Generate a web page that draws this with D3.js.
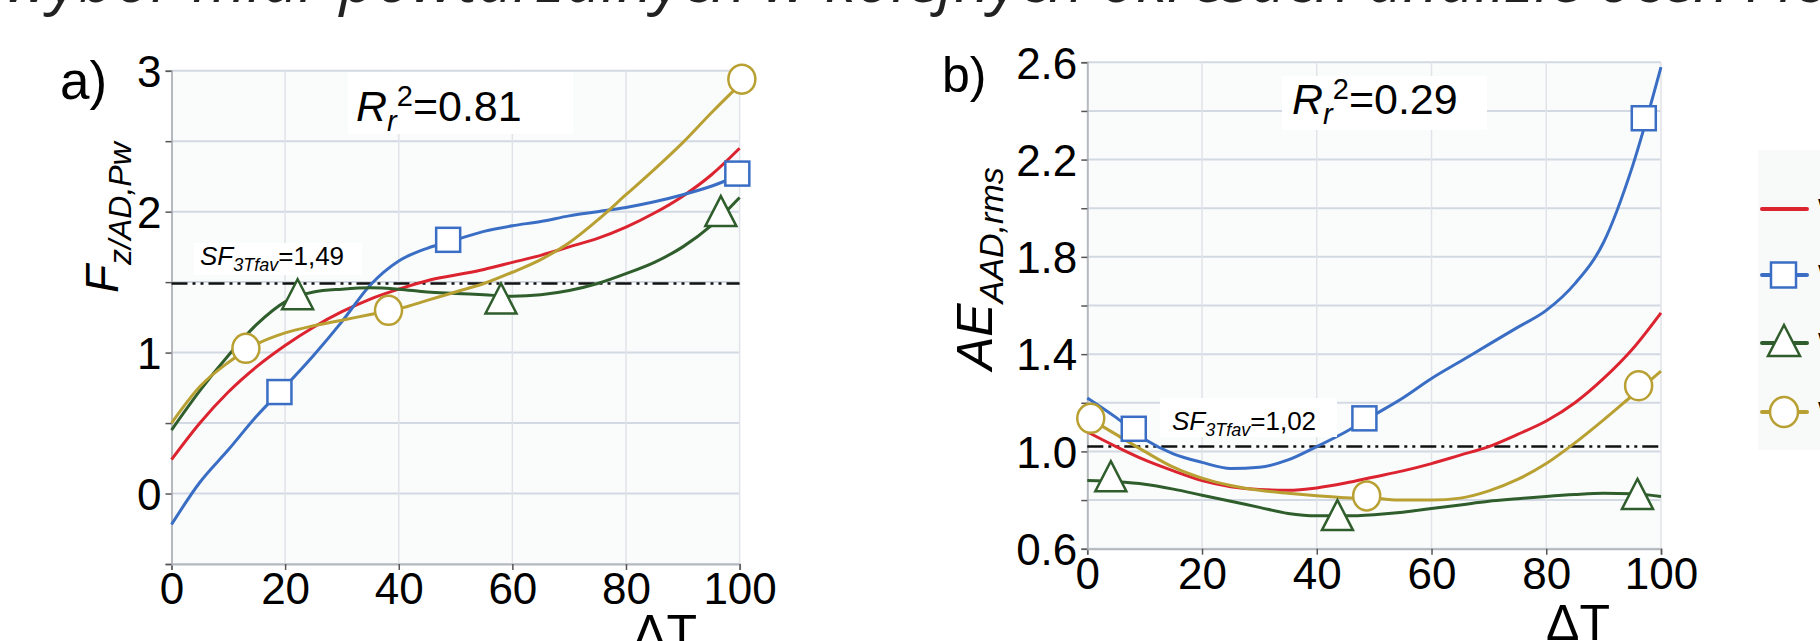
<!DOCTYPE html>
<html><head><meta charset="utf-8">
<script src="https://cdn.jsdelivr.net/npm/d3@7"></script>
<style>
html,body{margin:0;padding:0;background:#fff;}
svg{display:block;font-family:"Liberation Sans",Arial,sans-serif;}
</style></head>
<body>
<svg id="c" width="1820" height="641"></svg>
<script>
// ---------- data ----------
const titleText = "wybór miar powtarzalnych w kolejnych okresach analizie ocen i ich dalsze oceniane";
const xVals = [0,5,10,15,20,25,30,35,40,45,50,55,60,65,70,75,80,85,90,95,100];
const xTicks = [0,20,40,60,80,100];

// panel a
const aYTicks = [0,1,2,3];
const aRed    = [0.24,0.50,0.72,0.90,1.05,1.18,1.29,1.38,1.45,1.51,1.55,1.59,1.64,1.69,1.75,1.81,1.89,1.99,2.11,2.26,2.45];
const aBlue   = [-0.22,0.08,0.31,0.55,0.76,0.98,1.22,1.48,1.65,1.74,1.80,1.86,1.90,1.93,1.97,2.00,2.03,2.07,2.12,2.18,2.26];
const aGreen  = [0.45,0.73,0.98,1.20,1.36,1.43,1.45,1.46,1.45,1.43,1.42,1.41,1.40,1.41,1.44,1.49,1.56,1.64,1.75,1.90,2.10];
const aYellow = [0.50,0.76,0.93,1.06,1.14,1.19,1.23,1.27,1.31,1.37,1.43,1.49,1.57,1.66,1.78,1.94,2.12,2.30,2.49,2.70,2.90];
const aBlueMx = [19.0,48.7,99.6], aBlueMy = [0.72,1.80,2.27];
const aGreenMx = [22.2,58.0,96.7], aGreenMy = [1.40,1.37,1.99];
const aYellowMx = [13.1,38.2,100.4], aYellowMy = [1.03,1.30,2.94];
const aSF = 1.49, aR2 = "0.81", aSFLabel = "=1,49";

// panel b
const bYTicks = [0.6,1.0,1.4,1.8,2.2,2.6];
const bRed    = [1.08,1.02,0.965,0.92,0.88,0.855,0.843,0.84,0.85,0.87,0.895,0.92,0.95,0.985,1.02,1.07,1.125,1.20,1.30,1.42,1.57];
const bBlue   = [1.22,1.14,1.05,0.99,0.955,0.93,0.935,0.965,1.02,1.08,1.15,1.22,1.30,1.37,1.44,1.51,1.58,1.69,1.86,2.17,2.58];
const bGreen  = [0.88,0.875,0.865,0.845,0.82,0.795,0.77,0.745,0.735,0.735,0.74,0.75,0.765,0.78,0.795,0.805,0.815,0.823,0.828,0.826,0.815];
const bYellow = [1.14,1.07,1.00,0.935,0.89,0.86,0.84,0.828,0.818,0.81,0.807,0.80,0.80,0.808,0.838,0.885,0.95,1.035,1.13,1.23,1.33];
const bBlueMx = [8.1,48.3,97.0], bBlueMy = [1.093,1.136,2.37];
const bGreenMx = [4.1,43.6,95.9], bGreenMy = [0.89,0.73,0.817];
const bYellowMx = [0.6,48.7,96.1], bYellowMy = [1.136,0.817,1.27];
const bSF = 1.02, bR2 = "0.29", bSFLabel = "=1,02";

const legendLabels = ["W1","W2","W3","W4"];

// ---------- style ----------
const C = {red:"#dc2430", blue:"#3a6ec4", green:"#2f5e2c", yellow:"#b9a032"};
const svg = d3.select("#c");

// title (cut off at top): fit so descenders of 'y' (wybór) and 'j' (kolejnych) land where they are
const title = svg.append("text").attr("x",0).attr("y",2)
  .style("font-family","'Open Sans',sans-serif").style("font-style","italic")
  .style("font-size","56px").attr("fill","#222").text(titleText);
(function fit(){
  const n = title.node();
  const iy = 1, ij = titleText.indexOf("kolejnych")+4;
  const cy = n.getStartPositionOfChar(iy).x + n.getExtentOfChar(iy).width*0.35;
  const cj = n.getStartPositionOfChar(ij).x + n.getExtentOfChar(ij).width*0.35;
  const k = (944-60)/(cj-cy);
  title.style("font-size",(56*k)+"px");
  const cy2 = n.getStartPositionOfChar(iy).x + n.getExtentOfChar(iy).width*0.35;
  title.attr("x",60-cy2);
})();

function panel(o){
  const x = d3.scaleLinear([0,100],o.xr);
  const y = d3.scaleLinear(o.yd,o.yr);
  const g = svg.append("g");
  g.append("rect").attr("x",o.xr[0]).attr("y",o.yr[1]).attr("width",o.xr[1]-o.xr[0]).attr("height",o.yr[0]-o.yr[1]).attr("fill","#fafcfc");
  g.append("g").selectAll("line").data(o.gridY).join("line")
    .attr("x1",o.xr[0]).attr("x2",o.xr[1]).attr("y1",d=>y(d)).attr("y2",d=>y(d))
    .attr("stroke","#d3d9e3").attr("stroke-width",2);
  g.append("g").selectAll("line").data(xTicks.slice(1)).join("line")
    .attr("x1",d=>x(d)).attr("x2",d=>x(d)).attr("y1",o.yr[0]).attr("y2",o.yr[1])
    .attr("stroke","#e0e3e8").attr("stroke-width",1.5);
  const ax = g.append("g").attr("transform",`translate(0,${o.yr[0]})`)
    .call(d3.axisBottom(x).tickValues(xTicks).tickSize(6).tickPadding(3));
  ax.select(".domain").attr("stroke","#b5b8bd").attr("stroke-width",2);
  ax.selectAll(".tick line").attr("stroke","#555").attr("stroke-width",1.5);
  ax.selectAll("text").attr("font-size",44).attr("fill","#000").attr("font-family","Liberation Sans, Arial");
  const ay = g.append("g").attr("transform",`translate(${o.xr[0]},0)`)
    .call(d3.axisLeft(y).tickValues(o.gridY).tickSize(6).tickPadding(4).tickFormat(d=>o.yTicks.some(t=>Math.abs(t-d)<1e-9)?o.fmt(d):""));
  ay.select(".domain").attr("stroke","#b5b8bd").attr("stroke-width",2);
  ay.selectAll(".tick line").attr("stroke","#555").attr("stroke-width",1.5);
  ay.selectAll("text").attr("font-size",44).attr("fill","#000").attr("font-family","Liberation Sans, Arial").attr("dy","0.36em");
  g.append("line").attr("x1",o.xr[0]).attr("x2",o.xr[1]).attr("y1",y(o.sf)).attr("y2",y(o.sf))
    .attr("stroke","#111").attr("stroke-width",2.5).attr("stroke-dasharray","16,5,3,5,3,5");
  const line = d3.line().x((d,i)=>x(xVals[i])).y(d=>y(d)).curve(d3.curveMonotoneX);
  const series = [
    {v:o.red,c:C.red},{v:o.blue,c:C.blue},{v:o.green,c:C.green},{v:o.yellow,c:C.yellow}];
  g.append("g").selectAll("path").data(series).join("path")
    .attr("d",d=>line(d.v)).attr("fill","none").attr("stroke",d=>d.c).attr("stroke-width",3);
  const sq = o.bmx.map((v,i)=>[v,o.bmy[i]]);
  g.append("g").selectAll("rect").data(sq).join("rect")
    .attr("x",d=>x(d[0])-12).attr("y",d=>y(d[1])-12).attr("width",24).attr("height",24)
    .attr("fill","#fff").attr("stroke",C.blue).attr("stroke-width",2.5);
  const tr = o.gmx.map((v,i)=>[v,o.gmy[i]]);
  g.append("g").selectAll("path").data(tr).join("path")
    .attr("d",d=>{const cx=x(d[0]),cy=y(d[1]);return `M${cx},${cy-17}L${cx+15.5},${cy+13}L${cx-15.5},${cy+13}Z`;})
    .attr("fill","#fff").attr("stroke",C.green).attr("stroke-width",2.5);
  const ci = o.ymx.map((v,i)=>[v,o.ymy[i]]);
  g.append("g").selectAll("ellipse").data(ci).join("ellipse")
    .attr("cx",d=>x(d[0])).attr("cy",d=>y(d[1])).attr("rx",13.5).attr("ry",14.5)
    .attr("fill","#fff").attr("stroke",C.yellow).attr("stroke-width",2.5);
  g.append("rect").attr("x",o.r2box[0]).attr("y",o.r2box[1]).attr("width",o.r2box[2]).attr("height",o.r2box[3]).attr("fill","#fff");
  const t = g.append("text").attr("x",o.r2pos[0]).attr("y",o.r2pos[1]).attr("font-size",43).attr("fill","#000");
  t.append("tspan").attr("font-style","italic").text("R");
  t.append("tspan").attr("font-style","italic").attr("font-size",29).attr("dy",10).text("r");
  t.append("tspan").attr("font-size",29).attr("dy",-25).text("2");
  t.append("tspan").attr("dy",15).text("="+o.r2);
  g.append("rect").attr("x",o.sfbox[0]).attr("y",o.sfbox[1]).attr("width",o.sfbox[2]).attr("height",o.sfbox[3]).attr("fill","#fff");
  const s = g.append("text").attr("x",o.sfpos[0]).attr("y",o.sfpos[1]).attr("font-size",26).attr("fill","#000");
  s.append("tspan").attr("font-style","italic").text("SF");
  s.append("tspan").attr("font-style","italic").attr("font-size",18).attr("dy",6).text("3Tfav");
  s.append("tspan").attr("dy",-6).text(o.sfl);
  svg.append("text").attr("x",o.letter[0]).attr("y",o.letter[1]).attr("font-size",o.letter[3]).text(o.letter[2]);
  svg.append("text").attr("x",o.dT[0]).attr("y",o.dT[1]).attr("font-size",50).attr("text-anchor","middle").text("ΔT");
  const yt = svg.append("text").attr("transform",`translate(${o.yt[0]},${o.yt[1]}) rotate(-90)`).attr("font-size",o.yt[2]);
  yt.append("tspan").attr("font-style","italic").text(o.yt[3]);
  yt.append("tspan").attr("font-style","italic").attr("font-size",o.yt[4]).attr("dy",o.yt[5]).text(o.yt[6]);
}

panel({xr:[171.5,739.6], yd:[-0.5,3], yr:[564,70.7], gridY:[-0.5,0,0.5,1,1.5,2,2.5,3], yTicks:aYTicks, fmt:d3.format("d"),
  red:aRed, blue:aBlue, green:aGreen, yellow:aYellow,
  bmx:aBlueMx,bmy:aBlueMy,gmx:aGreenMx,gmy:aGreenMy,ymx:aYellowMx,ymy:aYellowMy,
  sf:aSF, r2:aR2, sfl:aSFLabel,
  r2box:[348,72,225,62], r2pos:[356,121], sfbox:[194,243,168,32], sfpos:[200,265],
  letter:[60,99,"a)",53], dT:[665,650], yt:[118,293,46,"F",32,13,"z/AD,Pw"]});

panel({xr:[1087.3,1661], yd:[0.6,2.6], yr:[548.7,62.3], gridY:[0.6,0.8,1.0,1.2,1.4,1.6,1.8,2.0,2.2,2.4,2.6], yTicks:bYTicks, fmt:d3.format(".1f"),
  red:bRed, blue:bBlue, green:bGreen, yellow:bYellow,
  bmx:bBlueMx,bmy:bBlueMy,gmx:bGreenMx,gmy:bGreenMy,ymx:bYellowMx,ymy:bYellowMy,
  sf:bSF, r2:bR2, sfl:bSFLabel,
  r2box:[1282,76,205,54], r2pos:[1292,114], sfbox:[1160,398,177,39], sfpos:[1172,430],
  letter:[942,92,"b)",50], dT:[1578,640], yt:[992,370,50,"AE",34,11,"AAD,rms"]});

// legend (cut off at right)
const lg = svg.append("g");
lg.append("rect").attr("x",1758).attr("y",150).attr("width",62).attr("height",300).attr("fill","#f8f9f9");
const legY = [209,275,343,412];
const legC = [C.red,C.blue,C.green,C.yellow];
lg.selectAll("line").data(legY).join("line").attr("x1",1762).attr("x2",1807).attr("y1",d=>d).attr("y2",d=>d)
  .attr("stroke",(d,i)=>legC[i]).attr("stroke-width",4).attr("stroke-linecap","round");
lg.append("rect").attr("x",1771).attr("y",legY[1]-12.5).attr("width",25).attr("height",25).attr("fill","#fff").attr("stroke",C.blue).attr("stroke-width",2.5);
lg.append("path").attr("d",`M1784,${legY[2]-18}L1800,${legY[2]+13}L1768,${legY[2]+13}Z`).attr("fill","#fff").attr("stroke",C.green).attr("stroke-width",2.5);
lg.append("ellipse").attr("cx",1784).attr("cy",legY[3]).attr("rx",14).attr("ry",15).attr("fill","#fff").attr("stroke",C.yellow).attr("stroke-width",2.5);
lg.selectAll("text").data(legendLabels).join("text").attr("x",1818).attr("y",(d,i)=>legY[i]+13).attr("font-size",34).text(d=>d);
</script>
</body></html>
